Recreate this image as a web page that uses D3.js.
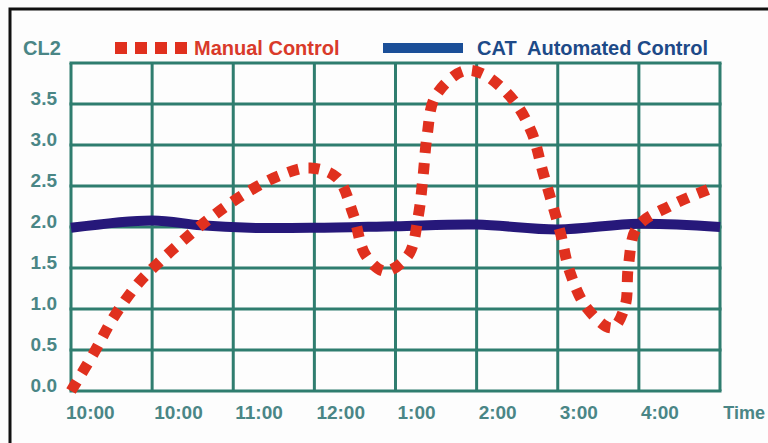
<!DOCTYPE html>
<html>
<head>
<meta charset="UTF-8">
<title>CL2 Manual vs CAT</title>
<script src="https://d3js.org/d3.v7.min.js"></script>
<style>
  body { margin: 0; background: #fdfdfd; }
  text { font-family: "Liberation Sans", Arial, sans-serif; font-weight: bold; }
</style>
</head>
<body>
<script>
var w = 768, h = 443;
var margin = {left: 71, right: 48, top: 63, bottom: 52};

// grid columns 0..8, x labels sit at the left of each column
var timeLabels = ["10:00", "10:00", "11:00", "12:00", "1:00", "2:00", "3:00", "4:00"];
var yTicks = [0, 0.5, 1, 1.5, 2, 2.5, 3, 3.5];

// manual control: [column position, CL2]
var manualX = [0, 0.28, 0.52, 0.81, 0.99, 1.34, 1.73, 2.15, 2.58, 2.95, 3.28, 3.48, 3.63, 3.87, 4.16, 4.28, 4.34, 4.39, 4.49, 4.83, 5.07, 5.45, 5.68, 5.82, 6.03, 6.15, 6.36, 6.67, 6.83, 6.87, 6.98, 7.39, 7.94];
var manualY = [0, 0.46, 0.89, 1.29, 1.48, 1.80, 2.12, 2.41, 2.63, 2.72, 2.60, 2.15, 1.66, 1.46, 1.66, 2.13, 2.62, 3.12, 3.59, 3.90, 3.87, 3.55, 3.15, 2.66, 1.94, 1.45, 1.01, 0.77, 1.04, 1.52, 2.0, 2.26, 2.49];

// CAT automated control
var catX = [0, 1, 1.6, 2.2, 3, 4, 5, 6, 7, 8];
var catY = [1.99, 2.08, 2.02, 1.99, 1.99, 2.01, 2.03, 1.97, 2.04, 2.00];

var x = d3.scaleLinear().domain([0, 8]).range([margin.left, w - margin.right]);
var y = d3.scaleLinear().domain([0, 4]).range([h - margin.bottom, margin.top]);

var svg = d3.select("body").append("svg")
    .attr("width", w)
    .attr("height", h);

// outer frame
svg.append("rect")
    .attr("x", 10).attr("y", 9)
    .attr("width", 790).attr("height", 470)
    .attr("fill", "#fdfdfd")
    .attr("stroke", "#111")
    .attr("stroke-width", 3);

var gridColor = "#2f7d6f";
var labelColor = "#4a8686";

// grid
svg.selectAll("line.v")
    .data(d3.range(0, 9))
    .enter().append("line")
    .attr("class", "v")
    .attr("x1", function(d) { return x(d); })
    .attr("x2", function(d) { return x(d); })
    .attr("y1", y(0)).attr("y2", y(4))
    .attr("stroke", gridColor).attr("stroke-width", 3);

svg.selectAll("line.h")
    .data(d3.range(0, 4.01, 0.5))
    .enter().append("line")
    .attr("class", "h")
    .attr("y1", function(d) { return y(d); })
    .attr("y2", function(d) { return y(d); })
    .attr("x1", x(0) - 1.5).attr("x2", x(8) + 1.5)
    .attr("stroke", gridColor).attr("stroke-width", 3);

// y labels
svg.selectAll("text.yl")
    .data(yTicks)
    .enter().append("text")
    .attr("class", "yl")
    .attr("x", 57)
    .attr("y", function(d) { return y(d) + 1; })
    .attr("text-anchor", "end")
    .attr("font-size", 19)
    .attr("fill", labelColor)
    .text(function(d) { return d.toFixed(1); });

svg.append("text")
    .attr("x", 23).attr("y", 55)
    .attr("font-size", 20)
    .attr("fill", labelColor)
    .text("CL2");

// x labels
svg.selectAll("text.xl")
    .data(timeLabels)
    .enter().append("text")
    .attr("class", "xl")
    .attr("x", function(d, i) { return x(i) + (i === 0 ? -5 : 2); })
    .attr("y", 419)
    .attr("font-size", 19)
    .attr("fill", labelColor)
    .text(function(d) { return d; });

svg.append("text")
    .attr("x", 765).attr("y", 419)
    .attr("text-anchor", "end")
    .attr("font-size", 18)
    .attr("fill", labelColor)
    .text("Time");

var line = d3.line()
    .x(function(d) { return x(d[0]); })
    .y(function(d) { return y(d[1]); })
    .curve(d3.curveCatmullRom.alpha(0.5));

// CAT line
svg.append("path")
    .datum(catX.map(function(d, i) { return [d, catY[i]]; }))
    .attr("d", line)
    .attr("fill", "none")
    .attr("stroke", "#26187a")
    .attr("stroke-width", 10);

// manual line
svg.append("path")
    .datum(manualX.map(function(d, i) { return [d, manualY[i]]; }))
    .attr("d", line)
    .attr("fill", "none")
    .attr("stroke", "#e0301e")
    .attr("stroke-width", 11)
    .attr("stroke-dasharray", "11 10");

// legend
svg.selectAll("rect.lg")
    .data(d3.range(4))
    .enter().append("rect")
    .attr("class", "lg")
    .attr("x", function(d) { return 115 + d * 20; })
    .attr("y", 42)
    .attr("width", 12).attr("height", 12)
    .attr("fill", "#e0301e");

svg.append("text")
    .attr("x", 194).attr("y", 55)
    .attr("font-size", 20)
    .attr("fill", "#d93a2a")
    .text("Manual Control");

svg.append("rect")
    .attr("x", 383).attr("y", 43)
    .attr("width", 80).attr("height", 10)
    .attr("fill", "#1b4f98");

svg.append("text")
    .attr("x", 477).attr("y", 55)
    .attr("font-size", 20)
    .attr("fill", "#1d4a88")
    .attr("xml:space", "preserve")
    .text("CAT  Automated Control");
</script>
</body>
</html>
